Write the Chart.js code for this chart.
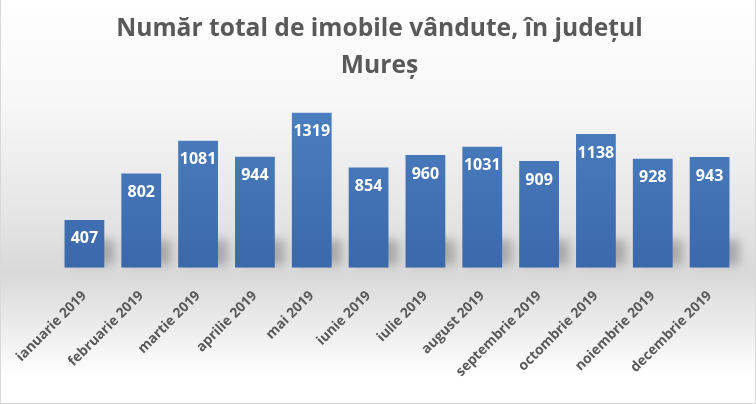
<!DOCTYPE html>
<html>
<head>
<meta charset="utf-8">
<script src="https://cdn.jsdelivr.net/npm/chart.js@4"></script>
<style>
  html, body { margin: 0; padding: 0; }
  body { width: 756px; height: 404px; overflow: hidden; }
  .chart-box {
    position: relative;
    width: 754px;
    height: 403px;
    border: 1px solid #d9d9d9;
    border-top: none;
    background: linear-gradient(to bottom, #ffffff 0%, #f7f7f7 25%, #e6e6e6 52%, #d9d9d9 68%, #f2f2f2 85%, #ffffff 93%, #ffffff 100%);
  }
</style>
</head>
<body>
<div class="chart-box">
  <canvas id="salesChart"></canvas>
</div>
<script>
const titleLines = ['Număr total de imobile vândute, în județul', 'Mureș'];
const months = [
  'ianuarie 2019', 'februarie 2019', 'martie 2019', 'aprilie 2019',
  'mai 2019', 'iunie 2019', 'iulie 2019', 'august 2019',
  'septembrie 2019', 'octombrie 2019', 'noiembrie 2019', 'decembrie 2019'
];
const soldCount = [407, 802, 1081, 944, 1319, 854, 960, 1031, 909, 1138, 928, 943];

const FONT = '"Open Sans", "Noto Sans", sans-serif';

// Soft shadow at the foot of each bar
const barShadow = {
  id: 'barShadow',
  beforeDatasetsDraw(chart) {
    const ctx = chart.ctx;
    const meta = chart.getDatasetMeta(0);
    ctx.save();
    ctx.filter = 'blur(5px)';
    ctx.fillStyle = 'rgba(90, 90, 90, 0.4)';
    meta.data.forEach(bar => {
      const w = bar.width;
      const h = Math.min(28, bar.base - bar.y);
      ctx.fillRect(bar.x - w / 2 + 6, bar.base - h, w + 4, h - 3);
    });
    ctx.restore();
  }
};

// Value labels inside the top of each bar
const barValues = {
  id: 'barValues',
  afterDatasetsDraw(chart) {
    const ctx = chart.ctx;
    const meta = chart.getDatasetMeta(0);
    ctx.save();
    ctx.font = 'bold 16px ' + FONT;
    ctx.fillStyle = '#ffffff';
    ctx.textAlign = 'center';
    ctx.textBaseline = 'middle';
    meta.data.forEach((bar, i) => {
      ctx.fillText(soldCount[i], bar.x, bar.y + 19);
    });
    ctx.restore();
  }
};

const ctx = document.getElementById('salesChart').getContext('2d');

new Chart(ctx, {
  type: 'bar',
  data: {
    labels: months,
    datasets: [{
      data: soldCount,
      backgroundColor(context) {
        const area = context.chart.chartArea;
        if (!area) return '#4575b8';
        const g = context.chart.ctx.createLinearGradient(0, area.top, 0, area.bottom);
        g.addColorStop(0, '#4c80c0');
        g.addColorStop(1, '#3b68ab');
        return g;
      },
      borderWidth: 0,
      barPercentage: 0.7,
      categoryPercentage: 1
    }]
  },
  options: {
    responsive: true,
    maintainAspectRatio: false,
    animation: false,
    layout: {
      padding: { left: 20, right: 17, top: 0, bottom: 11 }
    },
    plugins: {
      legend: { display: false },
      tooltip: { enabled: false },
      title: {
        display: true,
        text: titleLines,
        color: '#595959',
        font: { family: FONT, size: 24.6, weight: 'bold', lineHeight: 1.5 },
        padding: { top: 11, bottom: 18.5 }
      }
    },
    scales: {
      y: {
        beginAtZero: true,
        max: 1400,
        grid: { display: false },
        border: { display: false },
        ticks: { display: false },
        // invisible axis, only reserves room on the left
        afterFit(scale) { scale.width = 35; }
      },
      x: {
        grid: { display: false },
        border: { display: false },
        ticks: {
          color: '#595959',
          font: { family: FONT, size: 13.8, weight: 'bold' },
          minRotation: 45,
          maxRotation: 45,
          padding: 12
        }
      }
    }
  },
  plugins: [barShadow, barValues]
});
</script>
</body>
</html>
